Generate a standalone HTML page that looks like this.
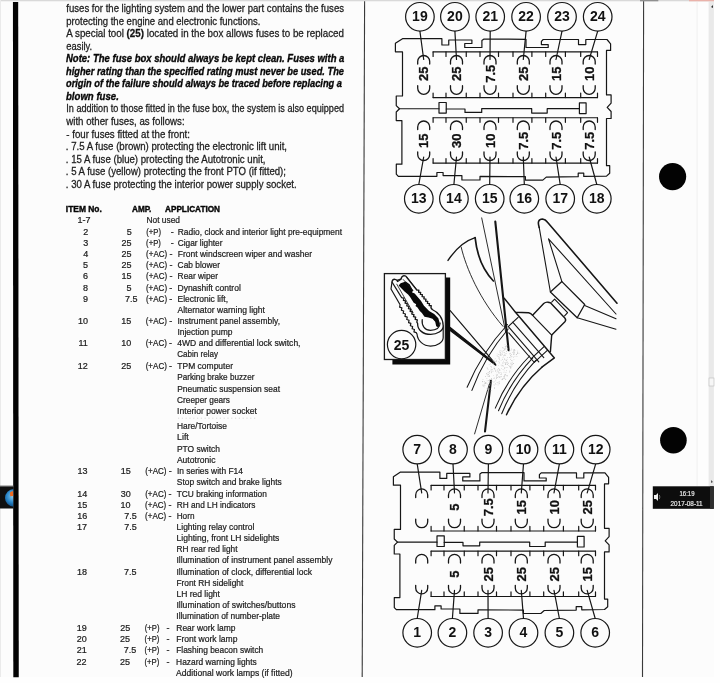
<!DOCTYPE html><html><head><meta charset="utf-8"><style>
html,body{margin:0;padding:0;background:#fcfcfc;overflow:hidden;width:720px;height:683px}
svg{display:block}
text{font-family:"Liberation Sans",sans-serif}
.p{font-size:10.5px;fill:#1e1e1e;stroke:#1e1e1e;stroke-width:0.28px}
.bi{font-weight:bold;font-style:italic;fill:#080808;stroke:#080808;stroke-width:0.35px}
.t{font-size:9.0px;fill:#1c1c1c;stroke:#1c1c1c;stroke-width:0.22px}
.ln{fill:none;stroke:#161616;stroke-linejoin:round;stroke-linecap:round}
svg{stroke-width:1.2px}
.cn{font-size:14px;font-weight:bold;fill:#111;text-anchor:middle}
.fz{font-size:13px;font-weight:bold;fill:#111;stroke:#111;stroke-width:0.3px;text-anchor:middle}
</style></head><body>
<svg width="720" height="683" viewBox="0 0 720 683">
<rect x="0" y="0" width="720" height="683" fill="#fcfcfc"/>
<rect x="714" y="0" width="6" height="683" fill="#fefefe"/>
<rect x="697.5" y="1.3" width="11" height="484.9" fill="#fdfdfd"/>
<g style="filter:grayscale(1)">
<rect x="0" y="0" width="714" height="1.3" fill="#d6d9dc"/>
<rect x="640" y="0" width="18.3" height="1.3" fill="#8e9094"/>
<rect x="0" y="0" width="1" height="683" fill="#e6eaf0"/>
<rect x="0" y="677" width="720" height="6" fill="#fefefe"/>
<path d="M12.95 2 L18.2 2 L18.75 677.2 L13.3 677.2 Z" fill="#030303"/>
<rect x="0" y="486.2" width="13.4" height="22.3" fill="#0c1015"/>
<rect x="0" y="485.6" width="13.4" height="1.2" fill="#5a5e64"/>
<text class="p" x="66.3" y="12.0" textLength="277.7" lengthAdjust="spacingAndGlyphs">fuses for the lighting system and the lower part contains the fuses</text>
<text class="p" x="66.3" y="24.6" textLength="194.1" lengthAdjust="spacingAndGlyphs">protecting the engine and electronic functions.</text>
<text class="p" x="66.3" y="37.0" textLength="277.7" lengthAdjust="spacingAndGlyphs">A special tool <tspan font-weight="bold" fill="#111">(25)</tspan> located in the box allows fuses to be replaced</text>
<text class="p" x="66.3" y="49.6" textLength="25.9" lengthAdjust="spacingAndGlyphs">easily.</text>
<text class="p bi" x="66.0" y="62.2" textLength="278.4" lengthAdjust="spacingAndGlyphs">Note: The fuse box should always be kept clean. Fuses with a</text>
<text class="p bi" x="66.0" y="74.6" textLength="278.0" lengthAdjust="spacingAndGlyphs">higher rating than the specified rating must never be used. The</text>
<text class="p bi" x="66.0" y="87.0" textLength="276.0" lengthAdjust="spacingAndGlyphs">origin of the failure should always be traced before replacing a</text>
<text class="p bi" x="66.0" y="99.5" textLength="52.8" lengthAdjust="spacingAndGlyphs">blown fuse.</text>
<text class="p" x="66.3" y="112.3" textLength="277.7" lengthAdjust="spacingAndGlyphs">In addition to those fitted in the fuse box, the system is also equipped</text>
<text class="p" x="66.3" y="125.0" textLength="118.3" lengthAdjust="spacingAndGlyphs">with other fuses, as follows:</text>
<text class="p" x="66.3" y="137.5" textLength="123.7" lengthAdjust="spacingAndGlyphs">- four fuses fitted at the front:</text>
<text class="p" x="65.8" y="150.3" textLength="221.2" lengthAdjust="spacingAndGlyphs">. 7.5 A fuse (brown) protecting the electronic lift unit,</text>
<text class="p" x="65.8" y="162.9" textLength="199.7" lengthAdjust="spacingAndGlyphs">. 15 A fuse (blue) protecting the Autotronic unit,</text>
<text class="p" x="65.8" y="175.4" textLength="220.2" lengthAdjust="spacingAndGlyphs">. 5 A fuse (yellow) protecting the front PTO (if fitted);</text>
<text class="p" x="65.8" y="187.9" textLength="230.9" lengthAdjust="spacingAndGlyphs">. 30 A fuse protecting the interior power supply socket.</text>
<line x1="178" y1="418.2" x2="257" y2="418.2" stroke="#c8c8c8" stroke-width="0.7" stroke-dasharray="1.2 2.6"/>
<text class="t" font-weight="bold" style="fill:#050505;stroke:#050505;stroke-width:0.4px" x="65.8" y="212" textLength="36" lengthAdjust="spacingAndGlyphs">ITEM No.</text>
<text class="t" font-weight="bold" style="fill:#050505;stroke:#050505;stroke-width:0.4px" x="132" y="212" textLength="19.4" lengthAdjust="spacingAndGlyphs">AMP.</text>
<text class="t" font-weight="bold" style="fill:#050505;stroke:#050505;stroke-width:0.4px" x="165" y="212" textLength="55" lengthAdjust="spacingAndGlyphs">APPLICATION</text>
<text class="t" x="77.5" y="223.3">1-7</text>
<text class="t" x="146.5" y="223.3" textLength="33.5" lengthAdjust="spacingAndGlyphs">Not used</text>
<text class="t" x="88.3" y="234.6" text-anchor="end">2</text>
<text class="t" x="131.7" y="234.6" text-anchor="end">5</text>
<text class="t" x="146.2" y="234.6" textLength="14.8" lengthAdjust="spacingAndGlyphs">(+P)</text>
<text class="t" x="170.8" y="234.6">-</text>
<text class="t" x="177.8" y="234.6" textLength="164.2" lengthAdjust="spacingAndGlyphs">Radio, clock and interior light pre-equipment</text>
<text class="t" x="88.2" y="245.7" text-anchor="end">3</text>
<text class="t" x="131.6" y="245.7" text-anchor="end">25</text>
<text class="t" x="146.1" y="245.7" textLength="14.8" lengthAdjust="spacingAndGlyphs">(+P)</text>
<text class="t" x="170.7" y="245.7">-</text>
<text class="t" x="177.7" y="245.7" textLength="44.8" lengthAdjust="spacingAndGlyphs">Cigar lighter</text>
<text class="t" x="88.2" y="256.8" text-anchor="end">4</text>
<text class="t" x="131.6" y="256.8" text-anchor="end">25</text>
<text class="t" x="146.1" y="256.8" textLength="21.2" lengthAdjust="spacingAndGlyphs">(+AC)</text>
<text class="t" x="169.5" y="256.8">-</text>
<text class="t" x="177.7" y="256.8" textLength="134.3" lengthAdjust="spacingAndGlyphs">Front windscreen wiper and washer</text>
<text class="t" x="88.1" y="268.0" text-anchor="end">5</text>
<text class="t" x="131.5" y="268.0" text-anchor="end">25</text>
<text class="t" x="146.0" y="268.0" textLength="21.2" lengthAdjust="spacingAndGlyphs">(+AC)</text>
<text class="t" x="169.4" y="268.0">-</text>
<text class="t" x="177.6" y="268.0" textLength="42.4" lengthAdjust="spacingAndGlyphs">Cab blower</text>
<text class="t" x="88.1" y="279.3" text-anchor="end">6</text>
<text class="t" x="131.5" y="279.3" text-anchor="end">15</text>
<text class="t" x="146.0" y="279.3" textLength="21.2" lengthAdjust="spacingAndGlyphs">(+AC)</text>
<text class="t" x="169.4" y="279.3">-</text>
<text class="t" x="177.6" y="279.3" textLength="40.4" lengthAdjust="spacingAndGlyphs">Rear wiper</text>
<text class="t" x="88.0" y="290.5" text-anchor="end">8</text>
<text class="t" x="131.4" y="290.5" text-anchor="end">5</text>
<text class="t" x="145.9" y="290.5" textLength="21.2" lengthAdjust="spacingAndGlyphs">(+AC)</text>
<text class="t" x="169.3" y="290.5">-</text>
<text class="t" x="177.5" y="290.5" textLength="63.3" lengthAdjust="spacingAndGlyphs">Dynashift control</text>
<text class="t" x="88.0" y="301.7" text-anchor="end">9</text>
<text class="t" x="137.6" y="301.7" text-anchor="end">7.5</text>
<text class="t" x="145.9" y="301.7" textLength="21.2" lengthAdjust="spacingAndGlyphs">(+AC)</text>
<text class="t" x="169.3" y="301.7">-</text>
<text class="t" x="177.5" y="301.7" textLength="50.5" lengthAdjust="spacingAndGlyphs">Electronic lift,</text>
<text class="t" x="177.5" y="312.9" textLength="87.5" lengthAdjust="spacingAndGlyphs">Alternator warning light</text>
<text class="t" x="87.9" y="324.0" text-anchor="end">10</text>
<text class="t" x="131.3" y="324.0" text-anchor="end">15</text>
<text class="t" x="145.8" y="324.0" textLength="21.2" lengthAdjust="spacingAndGlyphs">(+AC)</text>
<text class="t" x="169.2" y="324.0">-</text>
<text class="t" x="177.4" y="324.0" textLength="102.6" lengthAdjust="spacingAndGlyphs">Instrument panel assembly,</text>
<text class="t" x="177.4" y="335.1" textLength="55.1" lengthAdjust="spacingAndGlyphs">Injection pump</text>
<text class="t" x="87.8" y="346.2" text-anchor="end">11</text>
<text class="t" x="131.2" y="346.2" text-anchor="end">10</text>
<text class="t" x="145.7" y="346.2" textLength="21.2" lengthAdjust="spacingAndGlyphs">(+AC)</text>
<text class="t" x="169.1" y="346.2">-</text>
<text class="t" x="177.3" y="346.2" textLength="123.2" lengthAdjust="spacingAndGlyphs">4WD and differential lock switch,</text>
<text class="t" x="177.3" y="357.3" textLength="40.7" lengthAdjust="spacingAndGlyphs">Cabin relay</text>
<text class="t" x="87.8" y="368.5" text-anchor="end">12</text>
<text class="t" x="131.2" y="368.5" text-anchor="end">25</text>
<text class="t" x="145.7" y="368.5" textLength="21.2" lengthAdjust="spacingAndGlyphs">(+AC)</text>
<text class="t" x="169.1" y="368.5">-</text>
<text class="t" x="177.3" y="368.5" textLength="55.7" lengthAdjust="spacingAndGlyphs">TPM computer</text>
<text class="t" x="177.2" y="379.9" textLength="77.3" lengthAdjust="spacingAndGlyphs">Parking brake buzzer</text>
<text class="t" x="177.2" y="391.8" textLength="102.8" lengthAdjust="spacingAndGlyphs">Pneumatic suspension seat</text>
<text class="t" x="177.1" y="403.0" textLength="52.9" lengthAdjust="spacingAndGlyphs">Creeper gears</text>
<text class="t" x="177.1" y="414.0" textLength="79.9" lengthAdjust="spacingAndGlyphs">Interior power socket</text>
<text class="t" x="177.0" y="429.3" textLength="50.0" lengthAdjust="spacingAndGlyphs">Hare/Tortoise</text>
<text class="t" x="177.0" y="440.4" textLength="11.8" lengthAdjust="spacingAndGlyphs">Lift</text>
<text class="t" x="176.9" y="451.7" textLength="43.1" lengthAdjust="spacingAndGlyphs">PTO switch</text>
<text class="t" x="176.9" y="463.0" textLength="38.6" lengthAdjust="spacingAndGlyphs">Autotronic</text>
<text class="t" x="87.4" y="474.0" text-anchor="end">13</text>
<text class="t" x="130.8" y="474.0" text-anchor="end">15</text>
<text class="t" x="145.3" y="474.0" textLength="21.2" lengthAdjust="spacingAndGlyphs">(+AC)</text>
<text class="t" x="168.7" y="474.0">-</text>
<text class="t" x="176.9" y="474.0" textLength="66.1" lengthAdjust="spacingAndGlyphs">In series with F14</text>
<text class="t" x="176.8" y="485.3" textLength="105.0" lengthAdjust="spacingAndGlyphs">Stop switch and brake lights</text>
<text class="t" x="87.3" y="496.6" text-anchor="end">14</text>
<text class="t" x="130.7" y="496.6" text-anchor="end">30</text>
<text class="t" x="145.2" y="496.6" textLength="21.2" lengthAdjust="spacingAndGlyphs">(+AC)</text>
<text class="t" x="168.6" y="496.6">-</text>
<text class="t" x="176.8" y="496.6" textLength="90.0" lengthAdjust="spacingAndGlyphs">TCU braking information</text>
<text class="t" x="87.2" y="507.7" text-anchor="end">15</text>
<text class="t" x="130.6" y="507.7" text-anchor="end">10</text>
<text class="t" x="145.1" y="507.7" textLength="21.2" lengthAdjust="spacingAndGlyphs">(+AC)</text>
<text class="t" x="168.5" y="507.7">-</text>
<text class="t" x="176.7" y="507.7" textLength="78.8" lengthAdjust="spacingAndGlyphs">RH and LH indicators</text>
<text class="t" x="87.2" y="518.8" text-anchor="end">16</text>
<text class="t" x="136.8" y="518.8" text-anchor="end">7.5</text>
<text class="t" x="145.1" y="518.8" textLength="21.2" lengthAdjust="spacingAndGlyphs">(+AC)</text>
<text class="t" x="168.5" y="518.8">-</text>
<text class="t" x="176.7" y="518.8" textLength="17.8" lengthAdjust="spacingAndGlyphs">Horn</text>
<text class="t" x="87.1" y="530.0" text-anchor="end">17</text>
<text class="t" x="136.7" y="530.0" text-anchor="end">7.5</text>
<text class="t" x="176.6" y="530.0" textLength="77.7" lengthAdjust="spacingAndGlyphs">Lighting relay control</text>
<text class="t" x="176.6" y="541.2" textLength="102.7" lengthAdjust="spacingAndGlyphs">Lighting, front LH sidelights</text>
<text class="t" x="176.6" y="552.3" textLength="60.9" lengthAdjust="spacingAndGlyphs">RH rear red light</text>
<text class="t" x="176.5" y="563.4" textLength="156.0" lengthAdjust="spacingAndGlyphs">Illumination of instrument panel assembly</text>
<text class="t" x="87.0" y="574.7" text-anchor="end">18</text>
<text class="t" x="136.6" y="574.7" text-anchor="end">7.5</text>
<text class="t" x="176.5" y="574.7" textLength="135.5" lengthAdjust="spacingAndGlyphs">Illumination of clock, differential lock</text>
<text class="t" x="176.4" y="585.8" textLength="66.9" lengthAdjust="spacingAndGlyphs">Front RH sidelight</text>
<text class="t" x="176.4" y="597.2" textLength="43.6" lengthAdjust="spacingAndGlyphs">LH red light</text>
<text class="t" x="176.4" y="608.3" textLength="119.1" lengthAdjust="spacingAndGlyphs">Illumination of switches/buttons</text>
<text class="t" x="176.3" y="619.2" textLength="103.7" lengthAdjust="spacingAndGlyphs">Illumination of number-plate</text>
<text class="t" x="86.8" y="630.8" text-anchor="end">19</text>
<text class="t" x="130.2" y="630.8" text-anchor="end">25</text>
<text class="t" x="144.7" y="630.8" textLength="14.8" lengthAdjust="spacingAndGlyphs">(+P)</text>
<text class="t" x="166.6" y="630.8">-</text>
<text class="t" x="176.3" y="630.8" textLength="59.2" lengthAdjust="spacingAndGlyphs">Rear work lamp</text>
<text class="t" x="86.7" y="642.1" text-anchor="end">20</text>
<text class="t" x="130.1" y="642.1" text-anchor="end">25</text>
<text class="t" x="144.6" y="642.1" textLength="14.8" lengthAdjust="spacingAndGlyphs">(+P)</text>
<text class="t" x="166.6" y="642.1">-</text>
<text class="t" x="176.2" y="642.1" textLength="61.3" lengthAdjust="spacingAndGlyphs">Front work lamp</text>
<text class="t" x="86.7" y="653.3" text-anchor="end">21</text>
<text class="t" x="136.3" y="653.3" text-anchor="end">7.5</text>
<text class="t" x="144.6" y="653.3" textLength="14.8" lengthAdjust="spacingAndGlyphs">(+P)</text>
<text class="t" x="166.6" y="653.3">-</text>
<text class="t" x="176.2" y="653.3" textLength="87.1" lengthAdjust="spacingAndGlyphs">Flashing beacon switch</text>
<text class="t" x="86.6" y="664.5" text-anchor="end">22</text>
<text class="t" x="130.0" y="664.5" text-anchor="end">25</text>
<text class="t" x="144.5" y="664.5" textLength="14.8" lengthAdjust="spacingAndGlyphs">(+P)</text>
<text class="t" x="166.6" y="664.5">-</text>
<text class="t" x="176.1" y="664.5" textLength="80.7" lengthAdjust="spacingAndGlyphs">Hazard warning lights</text>
<text class="t" x="176.1" y="675.7" textLength="116.4" lengthAdjust="spacingAndGlyphs">Additional work lamps (if fitted)</text>
<line x1="364.6" y1="1.3" x2="362.2" y2="677" stroke="#3a3a3a" stroke-width="1.1"/>
<line x1="643.6" y1="1.3" x2="642.5" y2="677" stroke="#3a3a3a" stroke-width="1.1"/>
<line x1="697.1" y1="1.6" x2="697.1" y2="486" stroke="#eef0f6" stroke-width="1"/>
<circle cx="672.6" cy="176.6" r="13.6" fill="#030303"/>
<circle cx="673.4" cy="440.2" r="13.3" fill="#030303"/>
<rect x="708.6" y="1.6" width="5.3" height="484.7" fill="#e9e9e9"/>
<rect x="709" y="378" width="5" height="8" fill="#f6f6f6" stroke="#bbb" stroke-width="0.6"/>
<path d="M711 7 L713 5 L713 8 Z" fill="#333"/>
<path d="M711 480 L713 482 L711 483 Z" fill="#555"/>
<rect x="652.8" y="486.3" width="61" height="22.5" fill="#0a0d11"/>
<rect x="710" y="486.3" width="3.8" height="22.5" fill="#2a2e33"/>
<text x="687" y="496.2" font-size="6.9" fill="#e8e8e8" stroke="#e8e8e8" stroke-width="0.2" text-anchor="middle" textLength="15" lengthAdjust="spacingAndGlyphs">16:19</text>
<text x="686.6" y="505.8" font-size="6.9" fill="#e8e8e8" stroke="#e8e8e8" stroke-width="0.2" text-anchor="middle" textLength="32" lengthAdjust="spacingAndGlyphs">2017-08-11</text>
<path d="M654 495 L656 495 L658 493 L658 501 L656 499 L654 499 Z" fill="#f0f0f0"/>
<path d="M659.3 495 Q660.5 497 659.3 499" stroke="#bbb" stroke-width="0.6" fill="none"/>
<path d="M445.4 277.5 L450.2 277.5 L450.2 364.6 L392.4 364.6 L392.4 359.5 L445.4 359.5 Z" fill="#0a0a0a"/>
<rect x="384.4" y="273.6" width="61" height="85.9" style="fill:#fcfcfc" stroke="#1a1a1a" stroke-width="1.3"/>
<path class="ln" style="fill:#fcfcfc" stroke-width="1.2" d="M392 282 L391.00 289.00 L400.10 304.75 L399.61 307.10 L401.89 307.85 L401.40 310.20 L403.68 310.95 L403.19 313.30 L405.47 314.05 L404.98 316.40 L407.26 317.15 L406.77 319.50 L409.06 320.25 L408.57 322.60 L410.85 323.35 L410.36 325.70 L412.64 326.45 L412.15 328.80 L414.43 329.55 L413.94 331.90 L416.22 332.65 L417.00 334.00 C417.6 341 423.5 346.1 430.5 346.1 C437.5 346.1 443.2 342 443.2 337.5 L443.2 326 L432.2 309.5 L406.5 277 Z"/>
<path class="ln" style="fill:#fcfcfc" stroke-width="1.3" d="M392 282 Q392.5 279 395 279.3 Q397 279.6 397.6 281.5 L401 279.3 Q401.5 276 404 275.6 Q406 275.6 406.5 277 L406.50 277.00 L416.78 290.00 L418.92 290.12 L418.55 292.23 L420.69 292.36 L420.31 294.47 L422.45 294.59 L422.08 296.70 L424.22 296.83 L423.85 298.94 L425.99 299.06 L425.61 301.17 L427.75 301.30 L427.38 303.41 L429.52 303.53 L429.15 305.64 L431.29 305.77 L430.91 307.88 L432.20 309.50 C438 312 443.2 318 443.2 326 C443.2 331 437 334.4 430.7 334.4 C423 334.4 417.5 330 417.6 323.4 L416.83 322.16 L417.35 319.96 L415.15 319.44 L415.68 317.25 L413.48 316.73 L414.00 314.53 L411.80 314.02 L412.32 311.82 L410.12 311.30 L410.64 309.10 L408.44 308.59 L408.96 306.39 L406.76 305.87 L407.28 303.68 L405.08 303.16 L405.61 300.96 L403.41 300.45 L403.93 298.25 L401.73 297.73 L392.00 282.00 Z"/>
<path fill="#080808" d="M398.6 285.6 L400.6 283.2 L405.8 281.6 L409.6 284.3 L413.2 290.8 L411.8 292.3 L414.7 293.6 L420.9 300.7 L424 305.8 L429.1 311 L434.2 314.1 L438.3 318.2 L439.8 323.3 L438.6 327.4 L436.2 326.2 L435.2 321.8 L432.5 318.8 L428.5 317.6 L424.5 316.8 L421.9 313 L419.8 311 L417.5 307.5 L415.5 305.9 L416.2 304.3 L413.7 302.8 L410.1 297.1 L408.1 294.6 L404.5 291.5 Z"/>
<path class="ln" stroke-width="1.2" d="M422.2 319.5 C421.5 326 425 330.3 430.5 330.3 C435.5 330.3 439.8 328 440.2 323"/>
<path class="ln" stroke-width="0.8" d="M396.8 284.2 L413 312.5 M403.2 279.5 L412.8 290.3"/>
<circle class="ln" cx="401.6" cy="344.6" r="14.2" style="fill:#fcfcfc"/>
<text class="cn" x="401.6" y="349.9">25</text>
<path class="ln" d="M450.2 310.6 L493.8 361.8"/>
<path d="M450.2 327.5 L450.2 330.5 L495.8 365.2 L495.4 363.6 Z" fill="#111" stroke="#111" stroke-width="1.2" stroke-linejoin="round"/>
<path class="ln" stroke-width="0.9" d="M481.7 217.9 L505.6 331.7"/>
<path class="ln" stroke-width="2.1" d="M495.3 221.6 L508.6 350.2"/>
<path class="ln" stroke-width="2.1" d="M490.9 380.8 L485.0 431.5"/>
<path class="ln" stroke-width="0.9" d="M489.5 383.5 L474.6 433.9"/>
<path class="ln" stroke-width="1.4" d="M448 260.4 C455 250 465 241 475.1 237.7"/>
<path class="ln" stroke-width="1.7" d="M475.1 237.7 Q478 265 493.4 281"/>
<path class="ln" stroke-width="0.9" d="M461.2 247.2 C466 268 480 300 503 326.4"/>
<path class="ln" stroke-width="1.6" d="M539.2 227.4 Q536.5 219.2 542.5 219.0 Q545.5 219.4 547.5 222.2 L617 303.2"/>
<path class="ln" stroke-width="1.1" d="M539.2 227.4 L550.4 292"/>
<path class="ln" stroke-width="1.1" d="M548.5 238.8 L561.9 281.6 M548.5 238.8 L616 314"/>
<path class="ln" stroke-width="1.3" d="M550.4 292 L561.9 281.6 L584.7 304.5 L577.2 317.8 Z"/>
<path class="ln" stroke-width="1.1" d="M584.7 305.5 L616 318.7 M577.2 317.8 L616 329.2"/>
<path class="ln" stroke-width="1.1" d="M551.7 302.1 L554.6 299.2 L567.6 312.6 L564.6 315.9"/>
<path class="ln" stroke-width="1.4" d="M532.6 315.3 L543.7 303.6 Q545.7 301.8 548 302.2 L550.4 302.8 L564.8 318 Q566.5 320 564.9 321.8 L551.7 335.1 L550.4 351.6"/>
<path class="ln" stroke-width="1.2" d="M532.6 315.3 L551.7 335.1"/>
<path class="ln" stroke-width="1.4" d="M504.2 298.2 L515.4 312.2 L528.6 312.7 Q531 313.2 532.6 315.3"/>
<path class="ln" stroke-width="1.5" d="M515.7 312.4 L554.4 357.9 L542.2 366.8"/>
<path class="ln" stroke-width="1.1" d="M518.1 317.3 L508.2 326.6 M512.7 322.2 L543.8 357.6 M508.8 327.1 L538.8 361.8 M508.8 332.9 L533.5 361.5 M544.3 346.4 L531.0 358.8 M547.6 350.2 L534.3 362.3"/>
<path class="ln" stroke-width="1.05" d="M467.10 387.20 Q481.92 352.38 507.50 324.50"/>
<path class="ln" stroke-width="1.05" d="M471.90 390.40 Q484.54 356.44 508.20 329.00"/>
<path class="ln" stroke-width="1.05" d="M495.30 408.10 Q507.44 378.75 529.60 356.00"/>
<path class="ln" stroke-width="1.05" d="M498.50 410.80 Q510.61 381.04 532.80 357.80"/>
<path class="ln" stroke-width="1.05" d="M501.70 413.70 Q513.80 383.71 536.00 360.20"/>
<path class="ln" stroke-width="1.45" d="M506.50 414.80 Q519.16 386.80 542.40 366.70"/>
<g><rect x="506.0" y="345.8" width="0.7" height="0.7" fill="rgb(199,199,199)"/><rect x="517.1" y="353.2" width="0.7" height="0.7" fill="rgb(170,170,170)"/><rect x="487.6" y="374.6" width="0.7" height="0.7" fill="rgb(168,168,168)"/><rect x="502.8" y="362.6" width="0.7" height="0.7" fill="rgb(179,179,179)"/><rect x="513.1" y="351.4" width="0.7" height="0.7" fill="rgb(202,202,202)"/><rect x="502.6" y="351.8" width="0.7" height="0.7" fill="rgb(171,171,171)"/><rect x="507.3" y="364.2" width="0.7" height="0.7" fill="rgb(185,185,185)"/><rect x="485.7" y="382.6" width="0.7" height="0.7" fill="rgb(170,170,170)"/><rect x="502.7" y="369.3" width="0.7" height="0.7" fill="rgb(186,186,186)"/><rect x="509.4" y="357.0" width="0.7" height="0.7" fill="rgb(169,169,169)"/><rect x="510.6" y="349.9" width="0.7" height="0.7" fill="rgb(196,196,196)"/><rect x="492.6" y="360.2" width="0.7" height="0.7" fill="rgb(196,196,196)"/><rect x="502.9" y="365.7" width="0.7" height="0.7" fill="rgb(170,170,170)"/><rect x="506.6" y="345.2" width="0.7" height="0.7" fill="rgb(209,209,209)"/><rect x="491.3" y="372.1" width="0.7" height="0.7" fill="rgb(208,208,208)"/><rect x="513.3" y="356.8" width="0.7" height="0.7" fill="rgb(189,189,189)"/><rect x="504.3" y="367.7" width="0.7" height="0.7" fill="rgb(178,178,178)"/><rect x="511.0" y="348.7" width="0.7" height="0.7" fill="rgb(180,180,180)"/><rect x="499.3" y="350.7" width="0.7" height="0.7" fill="rgb(190,190,190)"/><rect x="490.0" y="363.6" width="0.7" height="0.7" fill="rgb(187,187,187)"/><rect x="507.4" y="361.8" width="0.7" height="0.7" fill="rgb(179,179,179)"/><rect x="498.9" y="372.6" width="0.7" height="0.7" fill="rgb(181,181,181)"/><rect x="501.0" y="373.7" width="0.7" height="0.7" fill="rgb(185,185,185)"/><rect x="500.2" y="374.1" width="0.7" height="0.7" fill="rgb(208,208,208)"/><rect x="509.8" y="365.7" width="0.7" height="0.7" fill="rgb(214,214,214)"/><rect x="502.0" y="362.7" width="0.7" height="0.7" fill="rgb(190,190,190)"/><rect x="504.4" y="349.7" width="0.7" height="0.7" fill="rgb(181,181,181)"/><rect x="498.7" y="358.2" width="0.7" height="0.7" fill="rgb(174,174,174)"/><rect x="489.4" y="385.1" width="0.7" height="0.7" fill="rgb(175,175,175)"/><rect x="500.2" y="352.7" width="0.7" height="0.7" fill="rgb(198,198,198)"/><rect x="493.6" y="377.9" width="0.7" height="0.7" fill="rgb(166,166,166)"/><rect x="510.6" y="357.5" width="0.7" height="0.7" fill="rgb(206,206,206)"/><rect x="485.2" y="382.1" width="0.7" height="0.7" fill="rgb(199,199,199)"/><rect x="501.3" y="368.1" width="0.7" height="0.7" fill="rgb(205,205,205)"/><rect x="487.6" y="384.2" width="0.7" height="0.7" fill="rgb(213,213,213)"/><rect x="487.7" y="368.9" width="0.7" height="0.7" fill="rgb(187,187,187)"/><rect x="486.3" y="373.5" width="0.7" height="0.7" fill="rgb(187,187,187)"/><rect x="486.8" y="374.5" width="0.7" height="0.7" fill="rgb(204,204,204)"/><rect x="510.3" y="366.9" width="0.7" height="0.7" fill="rgb(176,176,176)"/><rect x="496.7" y="375.1" width="0.7" height="0.7" fill="rgb(170,170,170)"/><rect x="495.0" y="362.9" width="0.7" height="0.7" fill="rgb(170,170,170)"/><rect x="509.2" y="350.8" width="0.7" height="0.7" fill="rgb(173,173,173)"/><rect x="498.0" y="376.1" width="0.7" height="0.7" fill="rgb(204,204,204)"/><rect x="506.3" y="360.2" width="0.7" height="0.7" fill="rgb(200,200,200)"/><rect x="482.4" y="381.0" width="0.7" height="0.7" fill="rgb(173,173,173)"/><rect x="513.5" y="353.0" width="0.7" height="0.7" fill="rgb(181,181,181)"/><rect x="487.1" y="368.1" width="0.7" height="0.7" fill="rgb(213,213,213)"/><rect x="503.2" y="355.5" width="0.7" height="0.7" fill="rgb(191,191,191)"/><rect x="504.6" y="348.3" width="0.7" height="0.7" fill="rgb(168,168,168)"/><rect x="492.0" y="369.0" width="0.7" height="0.7" fill="rgb(200,200,200)"/><rect x="498.7" y="382.4" width="0.7" height="0.7" fill="rgb(200,200,200)"/><rect x="504.1" y="352.4" width="0.7" height="0.7" fill="rgb(182,182,182)"/><rect x="497.5" y="369.7" width="0.7" height="0.7" fill="rgb(195,195,195)"/><rect x="499.8" y="354.9" width="0.7" height="0.7" fill="rgb(198,198,198)"/><rect x="489.2" y="371.1" width="0.7" height="0.7" fill="rgb(177,177,177)"/><rect x="514.1" y="349.1" width="0.7" height="0.7" fill="rgb(172,172,172)"/><rect x="494.9" y="358.4" width="0.7" height="0.7" fill="rgb(207,207,207)"/><rect x="513.8" y="350.4" width="0.7" height="0.7" fill="rgb(192,192,192)"/><rect x="496.1" y="360.5" width="0.7" height="0.7" fill="rgb(170,170,170)"/><rect x="501.8" y="364.9" width="0.7" height="0.7" fill="rgb(166,166,166)"/><rect x="494.5" y="368.9" width="0.7" height="0.7" fill="rgb(183,183,183)"/><rect x="511.5" y="356.1" width="0.7" height="0.7" fill="rgb(173,173,173)"/><rect x="495.5" y="369.9" width="0.7" height="0.7" fill="rgb(197,197,197)"/><rect x="502.5" y="378.4" width="0.7" height="0.7" fill="rgb(170,170,170)"/><rect x="490.0" y="383.6" width="0.7" height="0.7" fill="rgb(176,176,176)"/><rect x="492.6" y="370.8" width="0.7" height="0.7" fill="rgb(182,182,182)"/><rect x="504.7" y="344.2" width="0.7" height="0.7" fill="rgb(210,210,210)"/><rect x="491.1" y="381.5" width="0.7" height="0.7" fill="rgb(183,183,183)"/><rect x="497.2" y="377.0" width="0.7" height="0.7" fill="rgb(182,182,182)"/><rect x="509.5" y="370.7" width="0.7" height="0.7" fill="rgb(177,177,177)"/><rect x="500.1" y="354.8" width="0.7" height="0.7" fill="rgb(193,193,193)"/><rect x="482.6" y="384.6" width="0.7" height="0.7" fill="rgb(192,192,192)"/><rect x="506.2" y="370.4" width="0.7" height="0.7" fill="rgb(190,190,190)"/><rect x="486.5" y="387.9" width="0.7" height="0.7" fill="rgb(211,211,211)"/><rect x="505.3" y="363.0" width="0.7" height="0.7" fill="rgb(187,187,187)"/><rect x="494.4" y="368.3" width="0.7" height="0.7" fill="rgb(183,183,183)"/><rect x="503.7" y="378.0" width="0.7" height="0.7" fill="rgb(167,167,167)"/><rect x="497.2" y="355.7" width="0.7" height="0.7" fill="rgb(186,186,186)"/><rect x="498.4" y="368.1" width="0.7" height="0.7" fill="rgb(177,177,177)"/><rect x="488.7" y="382.4" width="0.7" height="0.7" fill="rgb(170,170,170)"/><rect x="488.0" y="372.5" width="0.7" height="0.7" fill="rgb(198,198,198)"/><rect x="514.7" y="350.1" width="0.7" height="0.7" fill="rgb(210,210,210)"/><rect x="499.3" y="356.8" width="0.7" height="0.7" fill="rgb(204,204,204)"/><rect x="512.9" y="349.2" width="0.7" height="0.7" fill="rgb(198,198,198)"/><rect x="505.6" y="346.4" width="0.7" height="0.7" fill="rgb(167,167,167)"/><rect x="482.5" y="385.5" width="0.7" height="0.7" fill="rgb(200,200,200)"/><rect x="500.9" y="354.7" width="0.7" height="0.7" fill="rgb(181,181,181)"/><rect x="510.2" y="368.2" width="0.7" height="0.7" fill="rgb(199,199,199)"/><rect x="510.1" y="366.6" width="0.7" height="0.7" fill="rgb(169,169,169)"/><rect x="514.4" y="354.2" width="0.7" height="0.7" fill="rgb(213,213,213)"/><rect x="486.8" y="380.5" width="0.7" height="0.7" fill="rgb(194,194,194)"/><rect x="499.2" y="361.9" width="0.7" height="0.7" fill="rgb(195,195,195)"/><rect x="486.5" y="373.2" width="0.7" height="0.7" fill="rgb(186,186,186)"/><rect x="488.9" y="380.6" width="0.7" height="0.7" fill="rgb(184,184,184)"/><rect x="504.7" y="348.9" width="0.7" height="0.7" fill="rgb(195,195,195)"/><rect x="507.1" y="357.1" width="0.7" height="0.7" fill="rgb(198,198,198)"/><rect x="490.3" y="366.2" width="0.7" height="0.7" fill="rgb(214,214,214)"/><rect x="497.7" y="384.6" width="0.7" height="0.7" fill="rgb(193,193,193)"/><rect x="510.1" y="355.6" width="0.7" height="0.7" fill="rgb(188,188,188)"/><rect x="483.7" y="384.7" width="0.7" height="0.7" fill="rgb(197,197,197)"/><rect x="493.7" y="367.9" width="0.7" height="0.7" fill="rgb(196,196,196)"/><rect x="495.4" y="379.8" width="0.7" height="0.7" fill="rgb(191,191,191)"/><rect x="503.3" y="360.8" width="0.7" height="0.7" fill="rgb(192,192,192)"/><rect x="506.5" y="375.0" width="0.7" height="0.7" fill="rgb(174,174,174)"/><rect x="500.0" y="351.9" width="0.7" height="0.7" fill="rgb(188,188,188)"/><rect x="511.8" y="364.2" width="0.7" height="0.7" fill="rgb(166,166,166)"/><rect x="501.6" y="379.4" width="0.7" height="0.7" fill="rgb(168,168,168)"/><rect x="504.4" y="349.2" width="0.7" height="0.7" fill="rgb(183,183,183)"/><rect x="501.7" y="350.9" width="0.7" height="0.7" fill="rgb(191,191,191)"/><rect x="489.2" y="376.1" width="0.7" height="0.7" fill="rgb(184,184,184)"/><rect x="498.8" y="376.8" width="0.7" height="0.7" fill="rgb(172,172,172)"/><rect x="486.9" y="389.1" width="0.7" height="0.7" fill="rgb(196,196,196)"/><rect x="501.7" y="365.6" width="0.7" height="0.7" fill="rgb(186,186,186)"/><rect x="489.1" y="371.6" width="0.7" height="0.7" fill="rgb(166,166,166)"/><rect x="510.2" y="363.5" width="0.7" height="0.7" fill="rgb(191,191,191)"/><rect x="510.1" y="352.9" width="0.7" height="0.7" fill="rgb(182,182,182)"/><rect x="498.4" y="372.5" width="0.7" height="0.7" fill="rgb(165,165,165)"/><rect x="498.1" y="365.3" width="0.7" height="0.7" fill="rgb(215,215,215)"/><rect x="500.5" y="377.5" width="0.7" height="0.7" fill="rgb(211,211,211)"/><rect x="500.7" y="364.7" width="0.7" height="0.7" fill="rgb(213,213,213)"/><rect x="500.6" y="372.3" width="0.7" height="0.7" fill="rgb(189,189,189)"/><rect x="489.2" y="383.1" width="0.7" height="0.7" fill="rgb(165,165,165)"/><rect x="498.4" y="354.2" width="0.7" height="0.7" fill="rgb(180,180,180)"/><rect x="505.9" y="344.9" width="0.7" height="0.7" fill="rgb(177,177,177)"/><rect x="499.4" y="377.1" width="0.7" height="0.7" fill="rgb(191,191,191)"/><rect x="496.2" y="361.3" width="0.7" height="0.7" fill="rgb(196,196,196)"/><rect x="496.1" y="377.5" width="0.7" height="0.7" fill="rgb(177,177,177)"/><rect x="499.3" y="352.4" width="0.7" height="0.7" fill="rgb(214,214,214)"/><rect x="513.3" y="354.0" width="0.7" height="0.7" fill="rgb(179,179,179)"/><rect x="489.4" y="388.2" width="0.7" height="0.7" fill="rgb(171,171,171)"/><rect x="495.9" y="376.6" width="0.7" height="0.7" fill="rgb(203,203,203)"/><rect x="506.6" y="361.7" width="0.7" height="0.7" fill="rgb(188,188,188)"/><rect x="510.6" y="361.8" width="0.7" height="0.7" fill="rgb(214,214,214)"/><rect x="498.4" y="361.4" width="0.7" height="0.7" fill="rgb(193,193,193)"/><rect x="495.7" y="384.2" width="0.7" height="0.7" fill="rgb(214,214,214)"/><rect x="495.4" y="361.5" width="0.7" height="0.7" fill="rgb(194,194,194)"/><rect x="489.1" y="380.9" width="0.7" height="0.7" fill="rgb(203,203,203)"/><rect x="489.3" y="379.3" width="0.7" height="0.7" fill="rgb(185,185,185)"/><rect x="482.6" y="379.2" width="0.7" height="0.7" fill="rgb(194,194,194)"/><rect x="488.8" y="364.4" width="0.7" height="0.7" fill="rgb(196,196,196)"/><rect x="491.0" y="378.0" width="0.7" height="0.7" fill="rgb(174,174,174)"/><rect x="504.1" y="359.0" width="0.7" height="0.7" fill="rgb(185,185,185)"/><rect x="497.8" y="382.8" width="0.7" height="0.7" fill="rgb(203,203,203)"/><rect x="510.4" y="354.9" width="0.7" height="0.7" fill="rgb(169,169,169)"/><rect x="505.9" y="367.0" width="0.7" height="0.7" fill="rgb(199,199,199)"/><rect x="508.5" y="365.2" width="0.7" height="0.7" fill="rgb(179,179,179)"/><rect x="516.3" y="354.2" width="0.7" height="0.7" fill="rgb(199,199,199)"/><rect x="483.2" y="385.7" width="0.7" height="0.7" fill="rgb(183,183,183)"/><rect x="517.0" y="351.8" width="0.7" height="0.7" fill="rgb(169,169,169)"/><rect x="499.8" y="354.0" width="0.7" height="0.7" fill="rgb(171,171,171)"/><rect x="494.0" y="387.0" width="0.7" height="0.7" fill="rgb(193,193,193)"/><rect x="505.4" y="378.9" width="0.7" height="0.7" fill="rgb(187,187,187)"/><rect x="489.0" y="373.2" width="0.7" height="0.7" fill="rgb(206,206,206)"/><rect x="513.2" y="363.3" width="0.7" height="0.7" fill="rgb(188,188,188)"/><rect x="486.7" y="383.4" width="0.7" height="0.7" fill="rgb(200,200,200)"/><rect x="498.8" y="363.2" width="0.7" height="0.7" fill="rgb(215,215,215)"/><rect x="495.0" y="370.6" width="0.7" height="0.7" fill="rgb(205,205,205)"/><rect x="501.0" y="376.0" width="0.7" height="0.7" fill="rgb(190,190,190)"/><rect x="507.9" y="363.3" width="0.7" height="0.7" fill="rgb(183,183,183)"/><rect x="506.7" y="363.7" width="0.7" height="0.7" fill="rgb(168,168,168)"/><rect x="491.4" y="371.5" width="0.7" height="0.7" fill="rgb(187,187,187)"/><rect x="505.7" y="362.3" width="0.7" height="0.7" fill="rgb(190,190,190)"/><rect x="513.3" y="363.1" width="0.7" height="0.7" fill="rgb(188,188,188)"/><rect x="493.9" y="368.2" width="0.7" height="0.7" fill="rgb(174,174,174)"/><rect x="494.5" y="381.2" width="0.7" height="0.7" fill="rgb(215,215,215)"/><rect x="484.9" y="382.9" width="0.7" height="0.7" fill="rgb(179,179,179)"/><rect x="504.7" y="374.0" width="0.7" height="0.7" fill="rgb(177,177,177)"/><rect x="513.7" y="351.5" width="0.7" height="0.7" fill="rgb(178,178,178)"/><rect x="513.1" y="352.0" width="0.7" height="0.7" fill="rgb(200,200,200)"/><rect x="506.7" y="358.9" width="0.7" height="0.7" fill="rgb(189,189,189)"/><rect x="503.8" y="370.6" width="0.7" height="0.7" fill="rgb(205,205,205)"/><rect x="494.7" y="361.1" width="0.7" height="0.7" fill="rgb(197,197,197)"/><rect x="504.6" y="367.5" width="0.7" height="0.7" fill="rgb(180,180,180)"/><rect x="497.2" y="374.2" width="0.7" height="0.7" fill="rgb(194,194,194)"/><rect x="493.4" y="361.0" width="0.7" height="0.7" fill="rgb(193,193,193)"/><rect x="499.7" y="376.2" width="0.7" height="0.7" fill="rgb(167,167,167)"/><rect x="505.4" y="346.3" width="0.7" height="0.7" fill="rgb(211,211,211)"/><rect x="491.5" y="379.5" width="0.7" height="0.7" fill="rgb(170,170,170)"/><rect x="483.9" y="386.6" width="0.7" height="0.7" fill="rgb(204,204,204)"/><rect x="517.4" y="350.6" width="0.7" height="0.7" fill="rgb(215,215,215)"/><rect x="509.0" y="353.5" width="0.7" height="0.7" fill="rgb(187,187,187)"/><rect x="504.2" y="355.1" width="0.7" height="0.7" fill="rgb(185,185,185)"/><rect x="516.6" y="356.3" width="0.7" height="0.7" fill="rgb(194,194,194)"/><rect x="517.6" y="352.8" width="0.7" height="0.7" fill="rgb(181,181,181)"/><rect x="504.5" y="354.3" width="0.7" height="0.7" fill="rgb(188,188,188)"/><rect x="485.3" y="382.8" width="0.7" height="0.7" fill="rgb(172,172,172)"/><rect x="497.5" y="369.1" width="0.7" height="0.7" fill="rgb(209,209,209)"/><rect x="495.0" y="383.5" width="0.7" height="0.7" fill="rgb(181,181,181)"/><rect x="494.2" y="361.2" width="0.7" height="0.7" fill="rgb(174,174,174)"/><rect x="493.5" y="381.8" width="0.7" height="0.7" fill="rgb(193,193,193)"/><rect x="487.9" y="374.0" width="0.7" height="0.7" fill="rgb(168,168,168)"/><rect x="490.7" y="368.8" width="0.7" height="0.7" fill="rgb(184,184,184)"/><rect x="503.2" y="376.5" width="0.7" height="0.7" fill="rgb(185,185,185)"/><rect x="504.9" y="363.7" width="0.7" height="0.7" fill="rgb(188,188,188)"/><rect x="487.8" y="376.0" width="0.7" height="0.7" fill="rgb(166,166,166)"/><rect x="491.1" y="369.2" width="0.7" height="0.7" fill="rgb(199,199,199)"/><rect x="487.6" y="372.3" width="0.7" height="0.7" fill="rgb(202,202,202)"/><rect x="513.6" y="350.2" width="0.7" height="0.7" fill="rgb(165,165,165)"/><rect x="511.6" y="362.9" width="0.7" height="0.7" fill="rgb(181,181,181)"/><rect x="503.6" y="372.1" width="0.7" height="0.7" fill="rgb(203,203,203)"/><rect x="488.7" y="389.0" width="0.7" height="0.7" fill="rgb(167,167,167)"/><rect x="504.3" y="376.2" width="0.7" height="0.7" fill="rgb(177,177,177)"/><rect x="504.1" y="368.4" width="0.7" height="0.7" fill="rgb(206,206,206)"/><rect x="495.9" y="373.9" width="0.7" height="0.7" fill="rgb(197,197,197)"/><rect x="510.0" y="366.2" width="0.7" height="0.7" fill="rgb(212,212,212)"/><rect x="506.2" y="351.1" width="0.7" height="0.7" fill="rgb(171,171,171)"/><rect x="489.2" y="375.5" width="0.7" height="0.7" fill="rgb(172,172,172)"/><rect x="492.4" y="381.0" width="0.7" height="0.7" fill="rgb(209,209,209)"/><rect x="490.7" y="390.3" width="0.7" height="0.7" fill="rgb(178,178,178)"/><rect x="514.2" y="352.5" width="0.7" height="0.7" fill="rgb(175,175,175)"/><rect x="510.1" y="359.0" width="0.7" height="0.7" fill="rgb(189,189,189)"/><rect x="509.2" y="371.7" width="0.7" height="0.7" fill="rgb(184,184,184)"/><rect x="511.9" y="362.4" width="0.7" height="0.7" fill="rgb(202,202,202)"/><rect x="493.6" y="384.5" width="0.7" height="0.7" fill="rgb(199,199,199)"/><rect x="482.2" y="381.4" width="0.7" height="0.7" fill="rgb(178,178,178)"/><rect x="498.5" y="357.0" width="0.7" height="0.7" fill="rgb(212,212,212)"/><rect x="496.8" y="382.2" width="0.7" height="0.7" fill="rgb(187,187,187)"/><rect x="502.3" y="379.1" width="0.7" height="0.7" fill="rgb(170,170,170)"/><rect x="502.7" y="356.9" width="0.7" height="0.7" fill="rgb(192,192,192)"/><rect x="499.1" y="383.4" width="0.7" height="0.7" fill="rgb(176,176,176)"/><rect x="502.9" y="350.3" width="0.7" height="0.7" fill="rgb(178,178,178)"/><rect x="511.0" y="367.5" width="0.7" height="0.7" fill="rgb(209,209,209)"/><rect x="502.1" y="347.4" width="0.7" height="0.7" fill="rgb(185,185,185)"/><rect x="493.3" y="362.9" width="0.7" height="0.7" fill="rgb(190,190,190)"/><rect x="496.2" y="375.6" width="0.7" height="0.7" fill="rgb(188,188,188)"/><rect x="494.3" y="388.0" width="0.7" height="0.7" fill="rgb(179,179,179)"/><rect x="503.5" y="377.8" width="0.7" height="0.7" fill="rgb(203,203,203)"/><rect x="505.8" y="360.1" width="0.7" height="0.7" fill="rgb(185,185,185)"/><rect x="497.4" y="370.8" width="0.7" height="0.7" fill="rgb(185,185,185)"/><rect x="516.1" y="354.4" width="0.7" height="0.7" fill="rgb(177,177,177)"/><rect x="489.5" y="381.2" width="0.7" height="0.7" fill="rgb(204,204,204)"/><rect x="500.5" y="350.4" width="0.7" height="0.7" fill="rgb(185,185,185)"/><rect x="485.1" y="376.2" width="0.7" height="0.7" fill="rgb(177,177,177)"/><rect x="505.4" y="347.6" width="0.7" height="0.7" fill="rgb(178,178,178)"/><rect x="496.8" y="353.6" width="0.7" height="0.7" fill="rgb(205,205,205)"/><rect x="489.1" y="380.4" width="0.7" height="0.7" fill="rgb(165,165,165)"/><rect x="496.5" y="371.8" width="0.7" height="0.7" fill="rgb(212,212,212)"/><rect x="506.7" y="375.9" width="0.7" height="0.7" fill="rgb(214,214,214)"/><rect x="505.6" y="372.4" width="0.7" height="0.7" fill="rgb(179,179,179)"/><rect x="507.2" y="375.4" width="0.7" height="0.7" fill="rgb(194,194,194)"/><rect x="496.6" y="355.5" width="0.7" height="0.7" fill="rgb(209,209,209)"/><rect x="505.1" y="355.0" width="0.7" height="0.7" fill="rgb(192,192,192)"/><rect x="493.9" y="359.8" width="0.7" height="0.7" fill="rgb(212,212,212)"/><rect x="518.8" y="352.9" width="0.7" height="0.7" fill="rgb(208,208,208)"/><rect x="504.4" y="375.2" width="0.7" height="0.7" fill="rgb(181,181,181)"/><rect x="496.1" y="378.3" width="0.7" height="0.7" fill="rgb(187,187,187)"/><rect x="502.9" y="347.7" width="0.7" height="0.7" fill="rgb(184,184,184)"/><rect x="500.7" y="353.4" width="0.7" height="0.7" fill="rgb(190,190,190)"/><rect x="512.3" y="352.0" width="0.7" height="0.7" fill="rgb(206,206,206)"/><rect x="502.2" y="353.8" width="0.7" height="0.7" fill="rgb(174,174,174)"/><rect x="493.2" y="375.2" width="0.7" height="0.7" fill="rgb(215,215,215)"/><rect x="490.7" y="370.5" width="0.7" height="0.7" fill="rgb(173,173,173)"/><rect x="511.5" y="366.4" width="0.7" height="0.7" fill="rgb(215,215,215)"/><rect x="514.6" y="355.9" width="0.7" height="0.7" fill="rgb(189,189,189)"/><rect x="507.2" y="367.0" width="0.7" height="0.7" fill="rgb(211,211,211)"/><rect x="512.4" y="360.6" width="0.7" height="0.7" fill="rgb(206,206,206)"/><rect x="491.0" y="366.9" width="0.7" height="0.7" fill="rgb(192,192,192)"/><rect x="504.8" y="346.4" width="0.7" height="0.7" fill="rgb(188,188,188)"/><rect x="502.3" y="358.9" width="0.7" height="0.7" fill="rgb(173,173,173)"/><rect x="500.8" y="359.9" width="0.7" height="0.7" fill="rgb(202,202,202)"/><rect x="511.4" y="360.0" width="0.7" height="0.7" fill="rgb(174,174,174)"/><rect x="501.0" y="373.7" width="0.7" height="0.7" fill="rgb(209,209,209)"/><rect x="486.5" y="378.0" width="0.7" height="0.7" fill="rgb(198,198,198)"/><rect x="506.9" y="348.1" width="0.7" height="0.7" fill="rgb(172,172,172)"/><rect x="499.4" y="370.1" width="0.7" height="0.7" fill="rgb(212,212,212)"/><rect x="498.1" y="371.3" width="0.7" height="0.7" fill="rgb(207,207,207)"/><rect x="490.8" y="366.2" width="0.7" height="0.7" fill="rgb(192,192,192)"/><rect x="504.2" y="377.5" width="0.7" height="0.7" fill="rgb(186,186,186)"/><rect x="498.8" y="381.4" width="0.7" height="0.7" fill="rgb(174,174,174)"/><rect x="504.9" y="359.6" width="0.7" height="0.7" fill="rgb(207,207,207)"/><rect x="493.7" y="366.7" width="0.7" height="0.7" fill="rgb(198,198,198)"/><rect x="499.2" y="359.4" width="0.7" height="0.7" fill="rgb(182,182,182)"/><rect x="486.8" y="367.6" width="0.7" height="0.7" fill="rgb(172,172,172)"/><rect x="490.9" y="372.5" width="0.7" height="0.7" fill="rgb(205,205,205)"/><rect x="495.2" y="370.8" width="0.7" height="0.7" fill="rgb(190,190,190)"/><rect x="504.2" y="376.2" width="0.7" height="0.7" fill="rgb(215,215,215)"/><rect x="499.5" y="370.3" width="0.7" height="0.7" fill="rgb(189,189,189)"/><rect x="504.5" y="374.6" width="0.7" height="0.7" fill="rgb(209,209,209)"/><rect x="505.2" y="374.5" width="0.7" height="0.7" fill="rgb(176,176,176)"/><rect x="493.9" y="384.8" width="0.7" height="0.7" fill="rgb(215,215,215)"/><rect x="491.3" y="378.9" width="0.7" height="0.7" fill="rgb(184,184,184)"/><rect x="499.4" y="369.2" width="0.7" height="0.7" fill="rgb(172,172,172)"/><rect x="511.3" y="363.9" width="0.7" height="0.7" fill="rgb(209,209,209)"/><rect x="505.7" y="353.0" width="0.7" height="0.7" fill="rgb(174,174,174)"/><rect x="505.0" y="364.2" width="0.7" height="0.7" fill="rgb(165,165,165)"/><rect x="507.4" y="348.3" width="0.7" height="0.7" fill="rgb(170,170,170)"/><rect x="498.3" y="356.3" width="0.7" height="0.7" fill="rgb(201,201,201)"/><rect x="488.4" y="380.1" width="0.7" height="0.7" fill="rgb(176,176,176)"/><rect x="484.2" y="381.5" width="0.7" height="0.7" fill="rgb(183,183,183)"/><rect x="505.0" y="378.9" width="0.7" height="0.7" fill="rgb(194,194,194)"/><rect x="504.6" y="362.2" width="0.7" height="0.7" fill="rgb(184,184,184)"/><rect x="509.4" y="350.6" width="0.7" height="0.7" fill="rgb(196,196,196)"/><rect x="504.2" y="358.4" width="0.7" height="0.7" fill="rgb(201,201,201)"/><rect x="509.3" y="366.4" width="0.7" height="0.7" fill="rgb(175,175,175)"/><rect x="484.2" y="383.5" width="0.7" height="0.7" fill="rgb(188,188,188)"/><rect x="511.5" y="365.5" width="0.7" height="0.7" fill="rgb(182,182,182)"/><rect x="513.6" y="359.3" width="0.7" height="0.7" fill="rgb(203,203,203)"/><rect x="484.5" y="385.3" width="0.7" height="0.7" fill="rgb(202,202,202)"/><rect x="494.2" y="377.6" width="0.7" height="0.7" fill="rgb(203,203,203)"/><rect x="511.2" y="354.2" width="0.7" height="0.7" fill="rgb(193,193,193)"/></g>
<g transform="translate(0.00 0.00)">
<path class="ln" d="M402.50 38.70 L441.90 38.70 L441.90 45.00 L448.75 45.00 L448.75 40.00 L471.90 40.00 L471.90 43.50 L464.75 43.50 L464.75 47.50 L481.90 47.50 L481.90 40.60 L484.00 39.10 L526.00 39.30 L526.00 47.50 L548.20 47.50 L548.20 44.60 L541.40 44.60 L541.40 41.30 L543.20 39.50 L578.50 39.50 L578.50 44.60 L585.80 44.60 L585.80 39.50 L607.00 39.50 L610.60 43.90 L610.60 50.40 L606.50 50.40 L606.50 94.90 L611.10 94.90 L611.10 103.20 L607.20 107.40 L611.10 111.50 L611.10 118.50 L606.50 118.50 L606.50 165.70 L609.70 165.70 L609.70 173.30 L606.50 176.10 L583.75 176.40 L583.75 173.20 L578.20 173.20 L578.20 176.70 L546.25 177.10 L542.80 180.10 L525.40 180.10 L525.40 176.70 L480.00 176.40 L480.00 180.00 L461.90 180.00 L461.90 175.60 L443.10 175.60 L443.10 172.50 L436.90 172.50 L436.90 176.30 L398.30 176.30 L396.30 174.20 L396.30 164.20 L401.90 164.20 L401.90 120.60 L396.25 120.60 L396.25 112.00 L399.50 108.75 L396.25 105.60 L396.25 96.00 L402.50 96.00 L402.50 51.80 L395.40 51.80 L395.40 43.30 Z"/>
<path class="ln" d="M399.50 108.75 L439.00 108.75"/>
<path class="ln" d="M446.25 109.00 L465.00 109.00 L465.00 112.40 L481.70 112.40 L481.70 108.70 L531.70 108.70 L531.70 113.10 L547.20 113.10 L547.20 108.70 L579.40 108.70"/>
<rect class="ln" x="439.0" y="102.5" width="7.25" height="10.6"/>
<rect class="ln" x="579.4" y="102.9" width="6.7" height="10.7"/>
<path class="ln" d="M433.1 51.90 L597.5 51.90 M433.1 97.60 L597.5 97.60"/>
<path class="ln" d="M433.10 51.90 L433.10 56.50 M433.10 97.60 L433.10 93.00 M446.00 51.90 L446.00 56.50 M446.00 97.60 L446.00 93.00 M466.25 51.90 L466.25 56.50 M466.25 97.60 L466.25 93.00 M480.00 51.90 L480.00 56.50 M480.00 97.60 L480.00 93.00 M498.50 51.90 L498.50 56.50 M498.50 97.60 L498.50 93.00 M513.00 51.90 L513.00 56.50 M513.00 97.60 L513.00 93.00 M531.90 51.90 L531.90 56.50 M531.90 97.60 L531.90 93.00 M545.70 51.90 L545.70 56.50 M545.70 97.60 L545.70 93.00 M565.40 51.90 L565.40 56.50 M565.40 97.60 L565.40 93.00 M580.70 51.90 L580.70 56.50 M580.70 97.60 L580.70 93.00 M597.50 51.90 L597.50 56.50 M597.50 97.60 L597.50 93.00 "/>
<path class="ln" d="M433.1 117.75 L597.5 117.75 M433.1 163.10 L597.5 163.10"/>
<path class="ln" d="M433.10 117.75 L433.10 122.35 M433.10 163.10 L433.10 158.50 M446.00 117.75 L446.00 122.35 M446.00 163.10 L446.00 158.50 M466.25 117.75 L466.25 122.35 M466.25 163.10 L466.25 158.50 M480.00 117.75 L480.00 122.35 M480.00 163.10 L480.00 158.50 M498.50 117.75 L498.50 122.35 M498.50 163.10 L498.50 158.50 M513.00 117.75 L513.00 122.35 M513.00 163.10 L513.00 158.50 M531.90 117.75 L531.90 122.35 M531.90 163.10 L531.90 158.50 M545.70 117.75 L545.70 122.35 M545.70 163.10 L545.70 158.50 M565.40 117.75 L565.40 122.35 M565.40 163.10 L565.40 158.50 M580.70 117.75 L580.70 122.35 M580.70 163.10 L580.70 158.50 M597.50 117.75 L597.50 122.35 M597.50 163.10 L597.50 158.50 "/>
<path class="ln" stroke-width="1.3" d="M417.70 64.10 L417.70 61.50 A6.00 6.00 0 0 1 429.70 61.50 L429.70 64.10 M417.70 85.70 L417.70 88.30 A6.00 6.00 0 0 0 429.70 88.30 L429.70 85.70"/>
<text class="fz" transform="translate(428.40 73.80) rotate(-90)">25</text>
<path class="ln" stroke-width="1.3" d="M450.50 64.10 L450.50 61.50 A6.00 6.00 0 0 1 462.50 61.50 L462.50 64.10 M450.50 85.70 L450.50 88.30 A6.00 6.00 0 0 0 462.50 88.30 L462.50 85.70"/>
<text class="fz" transform="translate(461.20 73.80) rotate(-90)">25</text>
<path class="ln" stroke-width="1.3" d="M484.00 64.10 L484.00 61.50 A6.00 6.00 0 0 1 496.00 61.50 L496.00 64.10 M484.00 85.70 L484.00 88.30 A6.00 6.00 0 0 0 496.00 88.30 L496.00 85.70"/>
<text class="fz" transform="translate(494.70 73.80) rotate(-90)" textLength="18" lengthAdjust="spacing">7.5</text>
<path class="ln" stroke-width="1.3" d="M517.30 64.10 L517.30 61.50 A6.00 6.00 0 0 1 529.30 61.50 L529.30 64.10 M517.30 85.70 L517.30 88.30 A6.00 6.00 0 0 0 529.30 88.30 L529.30 85.70"/>
<text class="fz" transform="translate(528.00 73.80) rotate(-90)">25</text>
<path class="ln" stroke-width="1.3" d="M550.00 64.10 L550.00 61.50 A6.00 6.00 0 0 1 562.00 61.50 L562.00 64.10 M550.00 85.70 L550.00 88.30 A6.00 6.00 0 0 0 562.00 88.30 L562.00 85.70"/>
<text class="fz" transform="translate(560.70 73.80) rotate(-90)">15</text>
<path class="ln" stroke-width="1.3" d="M583.20 64.10 L583.20 61.50 A6.00 6.00 0 0 1 595.20 61.50 L595.20 64.10 M583.20 85.70 L583.20 88.30 A6.00 6.00 0 0 0 595.20 88.30 L595.20 85.70"/>
<text class="fz" transform="translate(593.90 73.80) rotate(-90)">10</text>
<path class="ln" stroke-width="1.3" d="M417.70 129.60 L417.70 127.00 A6.00 6.00 0 0 1 429.70 127.00 L429.70 129.60 M417.70 151.90 L417.70 154.50 A6.00 6.00 0 0 0 429.70 154.50 L429.70 151.90"/>
<text class="fz" transform="translate(428.40 140.80) rotate(-90)">15</text>
<path class="ln" stroke-width="1.3" d="M450.50 129.60 L450.50 127.00 A6.00 6.00 0 0 1 462.50 127.00 L462.50 129.60 M450.50 151.90 L450.50 154.50 A6.00 6.00 0 0 0 462.50 154.50 L462.50 151.90"/>
<text class="fz" transform="translate(461.20 140.80) rotate(-90)">30</text>
<path class="ln" stroke-width="1.3" d="M484.00 129.60 L484.00 127.00 A6.00 6.00 0 0 1 496.00 127.00 L496.00 129.60 M484.00 151.90 L484.00 154.50 A6.00 6.00 0 0 0 496.00 154.50 L496.00 151.90"/>
<text class="fz" transform="translate(494.70 140.80) rotate(-90)">10</text>
<path class="ln" stroke-width="1.3" d="M517.30 129.60 L517.30 127.00 A6.00 6.00 0 0 1 529.30 127.00 L529.30 129.60 M517.30 151.90 L517.30 154.50 A6.00 6.00 0 0 0 529.30 154.50 L529.30 151.90"/>
<text class="fz" transform="translate(528.00 140.80) rotate(-90)" textLength="18" lengthAdjust="spacing">7.5</text>
<path class="ln" stroke-width="1.3" d="M550.00 129.60 L550.00 127.00 A6.00 6.00 0 0 1 562.00 127.00 L562.00 129.60 M550.00 151.90 L550.00 154.50 A6.00 6.00 0 0 0 562.00 154.50 L562.00 151.90"/>
<text class="fz" transform="translate(560.70 140.80) rotate(-90)" textLength="18" lengthAdjust="spacing">7.5</text>
<path class="ln" stroke-width="1.3" d="M583.20 129.60 L583.20 127.00 A6.00 6.00 0 0 1 595.20 127.00 L595.20 129.60 M583.20 151.90 L583.20 154.50 A6.00 6.00 0 0 0 595.20 154.50 L595.20 151.90"/>
<text class="fz" transform="translate(593.90 140.80) rotate(-90)" textLength="18" lengthAdjust="spacing">7.5</text>
</g>
<g transform="translate(-2.00 433.40)">
<path class="ln" d="M402.50 38.70 L441.90 38.70 L441.90 45.00 L448.75 45.00 L448.75 40.00 L471.90 40.00 L471.90 43.50 L464.75 43.50 L464.75 47.50 L481.90 47.50 L481.90 40.60 L484.00 39.10 L526.00 39.30 L526.00 47.50 L548.20 47.50 L548.20 44.60 L541.40 44.60 L541.40 41.30 L543.20 39.50 L578.50 39.50 L578.50 44.60 L585.80 44.60 L585.80 39.50 L607.00 39.50 L610.60 43.90 L610.60 50.40 L606.50 50.40 L606.50 94.90 L611.10 94.90 L611.10 103.20 L607.20 107.40 L611.10 111.50 L611.10 118.50 L606.50 118.50 L606.50 165.70 L609.70 165.70 L609.70 173.30 L606.50 176.10 L583.75 176.40 L583.75 173.20 L578.20 173.20 L578.20 176.70 L546.25 177.10 L542.80 180.10 L525.40 180.10 L525.40 176.70 L480.00 176.40 L480.00 180.00 L461.90 180.00 L461.90 175.60 L443.10 175.60 L443.10 172.50 L436.90 172.50 L436.90 176.30 L398.30 176.30 L396.30 174.20 L396.30 164.20 L401.90 164.20 L401.90 120.60 L396.25 120.60 L396.25 112.00 L399.50 108.75 L396.25 105.60 L396.25 96.00 L402.50 96.00 L402.50 51.80 L395.40 51.80 L395.40 43.30 Z"/>
<path class="ln" d="M399.50 108.75 L439.00 108.75"/>
<path class="ln" d="M446.25 109.00 L465.00 109.00 L465.00 112.40 L481.70 112.40 L481.70 108.70 L531.70 108.70 L531.70 113.10 L547.20 113.10 L547.20 108.70 L579.40 108.70"/>
<rect class="ln" x="439.0" y="102.5" width="7.25" height="10.6"/>
<rect class="ln" x="579.4" y="102.9" width="6.7" height="10.7"/>
<path class="ln" d="M433.1 51.90 L597.5 51.90 M433.1 97.60 L597.5 97.60"/>
<path class="ln" d="M433.10 51.90 L433.10 56.50 M433.10 97.60 L433.10 93.00 M446.00 51.90 L446.00 56.50 M446.00 97.60 L446.00 93.00 M466.25 51.90 L466.25 56.50 M466.25 97.60 L466.25 93.00 M480.00 51.90 L480.00 56.50 M480.00 97.60 L480.00 93.00 M498.50 51.90 L498.50 56.50 M498.50 97.60 L498.50 93.00 M513.00 51.90 L513.00 56.50 M513.00 97.60 L513.00 93.00 M531.90 51.90 L531.90 56.50 M531.90 97.60 L531.90 93.00 M545.70 51.90 L545.70 56.50 M545.70 97.60 L545.70 93.00 M565.40 51.90 L565.40 56.50 M565.40 97.60 L565.40 93.00 M580.70 51.90 L580.70 56.50 M580.70 97.60 L580.70 93.00 M597.50 51.90 L597.50 56.50 M597.50 97.60 L597.50 93.00 "/>
<path class="ln" d="M433.1 117.75 L597.5 117.75 M433.1 163.10 L597.5 163.10"/>
<path class="ln" d="M433.10 117.75 L433.10 122.35 M433.10 163.10 L433.10 158.50 M446.00 117.75 L446.00 122.35 M446.00 163.10 L446.00 158.50 M466.25 117.75 L466.25 122.35 M466.25 163.10 L466.25 158.50 M480.00 117.75 L480.00 122.35 M480.00 163.10 L480.00 158.50 M498.50 117.75 L498.50 122.35 M498.50 163.10 L498.50 158.50 M513.00 117.75 L513.00 122.35 M513.00 163.10 L513.00 158.50 M531.90 117.75 L531.90 122.35 M531.90 163.10 L531.90 158.50 M545.70 117.75 L545.70 122.35 M545.70 163.10 L545.70 158.50 M565.40 117.75 L565.40 122.35 M565.40 163.10 L565.40 158.50 M580.70 117.75 L580.70 122.35 M580.70 163.10 L580.70 158.50 M597.50 117.75 L597.50 122.35 M597.50 163.10 L597.50 158.50 "/>
<path class="ln" stroke-width="1.3" d="M417.70 64.10 L417.70 61.50 A6.00 6.00 0 0 1 429.70 61.50 L429.70 64.10 M417.70 85.70 L417.70 88.30 A6.00 6.00 0 0 0 429.70 88.30 L429.70 85.70"/>
<path class="ln" stroke-width="1.3" d="M450.50 64.10 L450.50 61.50 A6.00 6.00 0 0 1 462.50 61.50 L462.50 64.10 M450.50 85.70 L450.50 88.30 A6.00 6.00 0 0 0 462.50 88.30 L462.50 85.70"/>
<text class="fz" transform="translate(461.20 73.80) rotate(-90)">5</text>
<path class="ln" stroke-width="1.3" d="M484.00 64.10 L484.00 61.50 A6.00 6.00 0 0 1 496.00 61.50 L496.00 64.10 M484.00 85.70 L484.00 88.30 A6.00 6.00 0 0 0 496.00 88.30 L496.00 85.70"/>
<text class="fz" transform="translate(494.70 73.80) rotate(-90)" textLength="18" lengthAdjust="spacing">7.5</text>
<path class="ln" stroke-width="1.3" d="M517.30 64.10 L517.30 61.50 A6.00 6.00 0 0 1 529.30 61.50 L529.30 64.10 M517.30 85.70 L517.30 88.30 A6.00 6.00 0 0 0 529.30 88.30 L529.30 85.70"/>
<text class="fz" transform="translate(528.00 73.80) rotate(-90)">15</text>
<path class="ln" stroke-width="1.3" d="M550.00 64.10 L550.00 61.50 A6.00 6.00 0 0 1 562.00 61.50 L562.00 64.10 M550.00 85.70 L550.00 88.30 A6.00 6.00 0 0 0 562.00 88.30 L562.00 85.70"/>
<text class="fz" transform="translate(560.70 73.80) rotate(-90)">10</text>
<path class="ln" stroke-width="1.3" d="M583.20 64.10 L583.20 61.50 A6.00 6.00 0 0 1 595.20 61.50 L595.20 64.10 M583.20 85.70 L583.20 88.30 A6.00 6.00 0 0 0 595.20 88.30 L595.20 85.70"/>
<text class="fz" transform="translate(593.90 73.80) rotate(-90)">25</text>
<path class="ln" stroke-width="1.3" d="M417.70 129.60 L417.70 127.00 A6.00 6.00 0 0 1 429.70 127.00 L429.70 129.60 M417.70 151.90 L417.70 154.50 A6.00 6.00 0 0 0 429.70 154.50 L429.70 151.90"/>
<path class="ln" stroke-width="1.3" d="M450.50 129.60 L450.50 127.00 A6.00 6.00 0 0 1 462.50 127.00 L462.50 129.60 M450.50 151.90 L450.50 154.50 A6.00 6.00 0 0 0 462.50 154.50 L462.50 151.90"/>
<text class="fz" transform="translate(461.20 140.80) rotate(-90)">5</text>
<path class="ln" stroke-width="1.3" d="M484.00 129.60 L484.00 127.00 A6.00 6.00 0 0 1 496.00 127.00 L496.00 129.60 M484.00 151.90 L484.00 154.50 A6.00 6.00 0 0 0 496.00 154.50 L496.00 151.90"/>
<text class="fz" transform="translate(494.70 140.80) rotate(-90)">25</text>
<path class="ln" stroke-width="1.3" d="M517.30 129.60 L517.30 127.00 A6.00 6.00 0 0 1 529.30 127.00 L529.30 129.60 M517.30 151.90 L517.30 154.50 A6.00 6.00 0 0 0 529.30 154.50 L529.30 151.90"/>
<text class="fz" transform="translate(528.00 140.80) rotate(-90)">25</text>
<path class="ln" stroke-width="1.3" d="M550.00 129.60 L550.00 127.00 A6.00 6.00 0 0 1 562.00 127.00 L562.00 129.60 M550.00 151.90 L550.00 154.50 A6.00 6.00 0 0 0 562.00 154.50 L562.00 151.90"/>
<text class="fz" transform="translate(560.70 140.80) rotate(-90)">25</text>
<path class="ln" stroke-width="1.3" d="M583.20 129.60 L583.20 127.00 A6.00 6.00 0 0 1 595.20 127.00 L595.20 129.60 M583.20 151.90 L583.20 154.50 A6.00 6.00 0 0 0 595.20 154.50 L595.20 151.90"/>
<text class="fz" transform="translate(593.90 140.80) rotate(-90)">15</text>
</g>
<path class="ln" d="M419.90 31.10 L423.70 59.50"/>
<circle class="ln" cx="419.90" cy="16.80" r="14.30" style="fill:#fcfcfc"/>
<text class="cn" x="419.90" y="21.20">19</text>
<path class="ln" d="M454.90 31.10 L456.50 59.50"/>
<circle class="ln" cx="454.90" cy="16.80" r="14.30" style="fill:#fcfcfc"/>
<text class="cn" x="454.90" y="21.20">20</text>
<path class="ln" d="M490.20 31.10 L490.00 59.50"/>
<circle class="ln" cx="490.20" cy="16.80" r="14.30" style="fill:#fcfcfc"/>
<text class="cn" x="490.20" y="21.20">21</text>
<path class="ln" d="M526.10 31.10 L523.30 59.50"/>
<circle class="ln" cx="526.10" cy="16.80" r="14.30" style="fill:#fcfcfc"/>
<text class="cn" x="526.10" y="21.20">22</text>
<path class="ln" d="M562.00 31.10 L556.00 59.50"/>
<circle class="ln" cx="562.00" cy="16.80" r="14.30" style="fill:#fcfcfc"/>
<text class="cn" x="562.00" y="21.20">23</text>
<path class="ln" d="M597.70 31.10 L589.20 59.50"/>
<circle class="ln" cx="597.70" cy="16.80" r="14.30" style="fill:#fcfcfc"/>
<text class="cn" x="597.70" y="21.20">24</text>
<path class="ln" d="M423.70 157.00 L418.80 184.50"/>
<circle class="ln" cx="418.80" cy="198.80" r="14.30" style="fill:#fcfcfc"/>
<text class="cn" x="418.80" y="203.20">13</text>
<path class="ln" d="M456.50 157.00 L453.90 184.50"/>
<circle class="ln" cx="453.90" cy="198.80" r="14.30" style="fill:#fcfcfc"/>
<text class="cn" x="453.90" y="203.20">14</text>
<path class="ln" d="M490.00 157.00 L489.70 184.50"/>
<circle class="ln" cx="489.70" cy="198.80" r="14.30" style="fill:#fcfcfc"/>
<text class="cn" x="489.70" y="203.20">15</text>
<path class="ln" d="M523.30 157.00 L524.30 184.50"/>
<circle class="ln" cx="524.30" cy="198.80" r="14.30" style="fill:#fcfcfc"/>
<text class="cn" x="524.30" y="203.20">16</text>
<path class="ln" d="M556.00 157.00 L560.20 184.50"/>
<circle class="ln" cx="560.20" cy="198.80" r="14.30" style="fill:#fcfcfc"/>
<text class="cn" x="560.20" y="203.20">17</text>
<path class="ln" d="M589.20 157.00 L596.80 184.50"/>
<circle class="ln" cx="596.80" cy="198.80" r="14.30" style="fill:#fcfcfc"/>
<text class="cn" x="596.80" y="203.20">18</text>
<path class="ln" d="M417.20 463.90 L421.70 492.90"/>
<circle class="ln" cx="417.20" cy="449.60" r="14.30" style="fill:#fcfcfc"/>
<text class="cn" x="417.20" y="454.00">7</text>
<path class="ln" d="M453.00 463.90 L454.50 492.90"/>
<circle class="ln" cx="453.00" cy="449.60" r="14.30" style="fill:#fcfcfc"/>
<text class="cn" x="453.00" y="454.00">8</text>
<path class="ln" d="M488.40 463.90 L488.00 492.90"/>
<circle class="ln" cx="488.40" cy="449.60" r="14.30" style="fill:#fcfcfc"/>
<text class="cn" x="488.40" y="454.00">9</text>
<path class="ln" d="M523.50 463.90 L521.30 492.90"/>
<circle class="ln" cx="523.50" cy="449.60" r="14.30" style="fill:#fcfcfc"/>
<text class="cn" x="523.50" y="454.00">10</text>
<path class="ln" d="M559.40 463.90 L554.00 492.90"/>
<circle class="ln" cx="559.40" cy="449.60" r="14.30" style="fill:#fcfcfc"/>
<text class="cn" x="559.40" y="454.00">11</text>
<path class="ln" d="M595.70 463.90 L587.20 492.90"/>
<circle class="ln" cx="595.70" cy="449.60" r="14.30" style="fill:#fcfcfc"/>
<text class="cn" x="595.70" y="454.00">12</text>
<path class="ln" d="M421.70 590.40 L417.20 618.50"/>
<circle class="ln" cx="417.20" cy="632.80" r="14.30" style="fill:#fcfcfc"/>
<text class="cn" x="417.20" y="637.20">1</text>
<path class="ln" d="M454.50 590.40 L452.40 618.50"/>
<circle class="ln" cx="452.40" cy="632.80" r="14.30" style="fill:#fcfcfc"/>
<text class="cn" x="452.40" y="637.20">2</text>
<path class="ln" d="M488.00 590.40 L488.10 618.50"/>
<circle class="ln" cx="488.10" cy="632.80" r="14.30" style="fill:#fcfcfc"/>
<text class="cn" x="488.10" y="637.20">3</text>
<path class="ln" d="M521.30 590.40 L523.50 618.50"/>
<circle class="ln" cx="523.50" cy="632.80" r="14.30" style="fill:#fcfcfc"/>
<text class="cn" x="523.50" y="637.20">4</text>
<path class="ln" d="M554.00 590.40 L559.40 618.50"/>
<circle class="ln" cx="559.40" cy="632.80" r="14.30" style="fill:#fcfcfc"/>
<text class="cn" x="559.40" y="637.20">5</text>
<path class="ln" d="M587.20 590.40 L595.20 618.50"/>
<circle class="ln" cx="595.20" cy="632.80" r="14.30" style="fill:#fcfcfc"/>
<text class="cn" x="595.20" y="637.20">6</text>
</g>
<rect x="689" y="0" width="25" height="1.3" fill="#eab2aa"/>
<defs><radialGradient id="orb" cx="0.45" cy="0.4" r="0.6"><stop offset="0" stop-color="#8fd0f4"/><stop offset="0.6" stop-color="#2a86c8"/><stop offset="1" stop-color="#0f4f88"/></radialGradient></defs>
<clipPath id="clipL"><rect x="0" y="486.3" width="13.2" height="22.3"/></clipPath>
<g clip-path="url(#clipL)"><circle cx="13.8" cy="497.9" r="8.8" fill="url(#orb)"/><path d="M10 492.5 Q11.5 491.2 13.4 491 L13.4 496 L10.2 496.2 Z" fill="#ee6a22"/></g>
</svg></body></html>
